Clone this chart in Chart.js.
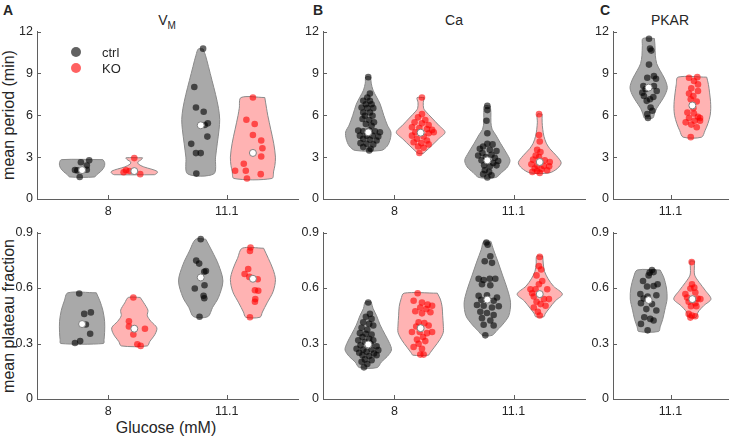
<!DOCTYPE html>
<html lang="en">
<head>
<meta charset="utf-8" />
<title>Violin plots - period and plateau fraction</title>
<script src="https://cdn.jsdelivr.net/npm/chart.js@4.4.1/dist/chart.umd.min.js"></script>
<style>
  body { margin: 0; background: #fff; }
  #fig { position: relative; width: 729px; height: 438px; overflow: hidden;
         font-family: 'Liberation Sans', Arial, sans-serif; color: #262626; }
  #fig canvas { position: absolute; }
  .txt { position: absolute; white-space: nowrap; }
  .letter { font-weight: bold; font-size: 14px; line-height: 14px; top: 3px; }
  .title { font-size: 14px; line-height: 14px; top: 13px; transform: translateX(-50%); }
  .title sub { font-size: 10px; vertical-align: -4px; line-height: 0; }
  .ytitle { font-size: 16px; line-height: 16px; transform: translate(-50%, -50%) rotate(-90deg); }
  .dot { position: absolute; width: 10px; height: 10px; border-radius: 50%; }
  .legtxt { font-size: 13px; line-height: 13px; }
</style>
</head>
<body>
<div id="fig">
  <div class="txt letter" style="left:3px">A</div>
  <div class="txt letter" style="left:313px">B</div>
  <div class="txt letter" style="left:600px">C</div>
  <div class="txt title" style="left:167px">V<sub>M</sub></div>
  <div class="txt title" style="left:454px">Ca</div>
  <div class="txt title" style="left:670px">PKAR</div>
  <div class="txt ytitle" style="left:9px;top:115px">mean period (min)</div>
  <div class="txt ytitle" style="left:9px;top:316px">mean plateau fraction</div>
  <div class="txt" style="left:166px;top:420px;font-size:16px;line-height:16px;transform:translateX(-50%)">Glucose (mM)</div>
  <canvas id="a1"></canvas>
  <canvas id="b1"></canvas>
  <canvas id="c1"></canvas>
  <canvas id="a2"></canvas>
  <canvas id="b2"></canvas>
  <canvas id="c2"></canvas>
  <div class="dot" style="left:71px;top:47px;background:rgba(0,0,0,0.62)"></div>
  <div class="dot" style="left:71px;top:63px;background:rgba(255,0,0,0.62)"></div>
  <div class="txt legtxt" style="left:102px;top:46px">ctrl</div>
  <div class="txt legtxt" style="left:102px;top:62px">KO</div>
</div>

<script>
// categories and ticks
const glucose = ['8', '11.1'];
const glucoseC = ['11.1'];
const periodTicks = [0, 3, 6, 9, 12];
const plateauTicks = [0, 0.3, 0.6, 0.9];

// violin outlines: [value, half width in x units], top to bottom
// points: [x jitter, value]; medians per glucose level

// --- V_M, mean period ---
const vmPerCtrl8Shape = [[2.82,0.175],[2.62,0.19],[2.4,0.19],[2.2,0.18],[1.95,0.155],[1.75,0.125],[1.58,0.105]];
const vmPerKo8Shape = [[2.95,0.07],[2.82,0.06],[2.65,0.03],[2.5,0.035],[2.3,0.08],[2.15,0.14],[2.0,0.19],[1.88,0.195],[1.78,0.18],[1.74,0.17]];
const vmPerCtrl11Shape = [[10.75,0.02],[10.3,0.04],[9.5,0.065],[8.5,0.095],[7.5,0.125],[6.5,0.15],[5.7,0.16],[5.0,0.155],[4.0,0.14],[3.0,0.125],[1.8,0.11]];
const vmPerKo11Shape = [[7.27,0.10],[6.5,0.115],[6.0,0.125],[5.0,0.15],[4.0,0.175],[3.0,0.19],[2.4,0.185],[2.0,0.175],[1.47,0.16]];
const vmPerCtrl8 = [[0.06,2.77],[-0.01,2.63],[0.04,2.40],[-0.06,2.08],[-0.04,2.05],[0.04,2.10],[-0.02,1.58]];
const vmPerKo8 = [[0,2.93],[-0.07,2.06],[-0.04,2.01],[-0.09,1.92],[0.05,1.78]];
const vmPerCtrl11 = [[0.02,10.77],[-0.054,8.02],[-0.04,6.55],[0.025,6.25],[0.06,5.42],[0.033,5.30],[0.056,4.47],[-0.08,3.95],[-0.04,3.29],[0,3.29],[-0.037,1.82]];
const vmPerKo11 = [[0,7.27],[-0.055,5.68],[0.015,5.37],[0,4.59],[0.07,4.19],[0.08,3.64],[0.07,3.05],[-0.077,2.53],[-0.15,2.02],[-0.06,2.02],[0.066,1.78],[-0.05,1.47]];
const vmPerMedCtrl = [2.07, 5.28];
const vmPerMedKo = [2.0, 3.3];

// --- V_M, plateau fraction ---
const vmPlaCtrl8Shape = [[0.574,0.12],[0.53,0.15],[0.48,0.175],[0.42,0.19],[0.36,0.19],[0.32,0.185],[0.30,0.18]];
const vmPlaKo8Shape = [[0.549,0.05],[0.52,0.08],[0.48,0.115],[0.45,0.11],[0.42,0.14],[0.385,0.19],[0.35,0.175],[0.31,0.13],[0.287,0.11]];
const vmPlaCtrl11Shape = [[0.864,0.042],[0.80,0.095],[0.726,0.15],[0.638,0.187],[0.549,0.15],[0.495,0.10],[0.445,0.06]];
const vmPlaKo11Shape = [[0.815,0.09],[0.76,0.13],[0.70,0.17],[0.645,0.19],[0.58,0.17],[0.52,0.12],[0.47,0.08],[0.442,0.06]];
const vmPlaCtrl8 = [[-0.024,0.57],[0.018,0.46],[0.074,0.468],[0.032,0.403],[0.068,0.353],[-0.016,0.313],[-0.06,0.303]];
const vmPlaKo8 = [[-0.008,0.549],[-0.045,0.42],[-0.045,0.392],[0.09,0.38],[-0.008,0.349],[0.026,0.296],[0.054,0.287]];
const vmPlaCtrl11 = [[0,0.864],[-0.038,0.748],[-0.013,0.732],[0.044,0.692],[0.03,0.688],[0.032,0.615],[-0.05,0.597],[0.024,0.558],[0.03,0.545],[-0.01,0.445]];
const vmPlaKo11 = [[-0.02,0.819],[-0.025,0.80],[-0.04,0.703],[-0.07,0.676],[-0.03,0.66],[0.04,0.647],[0.017,0.588],[0.045,0.585],[0.02,0.54],[0.017,0.526],[-0.025,0.442]];
const vmPlaMedCtrl = [0.405, 0.657];
const vmPlaMedKo = [0.38, 0.65];

// --- Ca, mean period ---
const caPerCtrl8Shape = [[8.75,0.02],[8.3,0.025],[7.8,0.04],[7.3,0.07],[6.8,0.10],[6.0,0.13],[5.3,0.16],[4.8,0.19],[4.3,0.185],[3.8,0.16],[3.48,0.11]];
const caPerKo8Shape = [[7.26,0.03],[6.9,0.022],[6.5,0.025],[6.3,0.04],[5.8,0.095],[5.3,0.15],[4.78,0.205],[4.3,0.15],[3.8,0.09],[3.4,0.04],[3.26,0.02]];
const caPerCtrl11Shape = [[6.67,0.025],[6.2,0.03],[5.5,0.03],[5.0,0.04],[4.6,0.07],[4.0,0.11],[3.3,0.16],[2.77,0.19],[2.3,0.17],[1.9,0.12],[1.54,0.07]];
const caPerKo11Shape = [[6.08,0.02],[5.5,0.02],[5.0,0.025],[4.5,0.035],[4.0,0.055],[3.6,0.085],[3.1,0.14],[2.6,0.18],[2.2,0.15],[1.87,0.08]];
const caPerCtrl8 = [[0,8.73],[0.014,7.55],[-0.008,7.27],[-0.042,7.03],[0.014,7.03],[-0.02,6.79],[0.028,6.79],[-0.056,6.56],[-0.008,6.51],[0.042,6.51],[-0.042,6.20],[0.014,6.20],[-0.028,5.96],[0.036,5.96],[-0.048,5.73],[0.008,5.66],[0.048,5.49],[-0.02,5.37],[0.028,5.25],[-0.084,4.90],[-0.042,4.85],[0.008,4.90],[0.056,4.85],[0.098,4.78],[-0.07,4.54],[-0.014,4.54],[0.036,4.54],[0.084,4.47],[-0.042,4.31],[0.014,4.24],[0.07,4.19],[-0.065,4.00],[-0.014,3.95],[0.042,3.91],[-0.042,3.72],[0.02,3.60],[0.008,3.48]];
const caPerKo8 = [[0.011,7.27],[0.011,6.08],[-0.022,5.85],[0.039,5.66],[-0.051,5.49],[0.011,5.42],[0.067,5.30],[-0.073,5.14],[-0.011,5.09],[0.053,5.02],[0.096,4.95],[-0.045,4.78],[0.067,4.71],[0.11,4.78],[-0.073,4.54],[0.025,4.47],[-0.031,4.31],[0.053,4.19],[-0.059,4.07],[0.006,4.00],[0.067,3.91],[-0.022,3.76],[0.025,3.67],[-0.011,3.3]];
const caPerCtrl11 = [[0,6.67],[0,6.37],[-0.007,5.61],[0,4.71],[0,3.95],[-0.035,3.76],[0.044,3.91],[-0.063,3.60],[0.021,3.53],[0.077,3.43],[-0.041,3.29],[0.035,3.17],[-0.077,3.12],[-0.013,3.01],[0.063,2.96],[-0.049,2.77],[0.091,2.72],[0.049,2.58],[-0.027,2.41],[0.021,2.34],[0.077,2.41],[-0.021,2.06],[0.015,1.94],[-0.035,1.78],[0.035,1.70],[0,1.54]];
const caPerKo11 = [[-0.006,6.08],[-0.006,4.59],[0,4.12],[-0.022,3.53],[0.006,3.36],[-0.034,3.12],[-0.006,3.01],[-0.056,2.82],[0.042,2.77],[0.084,2.65],[-0.07,2.49],[-0.022,2.41],[0.034,2.37],[0.079,2.34],[-0.042,2.18],[0.014,2.13],[0.062,2.06],[-0.022,2.01],[0,1.87],[-0.062,1.94]];
const caPerMedCtrl = [4.78, 2.77];
const caPerMedKo = [4.75, 2.65];

// --- Ca, plateau fraction ---
const caPlaCtrl8Shape = [[0.525,0.025],[0.49,0.04],[0.45,0.07],[0.40,0.10],[0.35,0.14],[0.30,0.18],[0.265,0.195],[0.23,0.16],[0.20,0.11],[0.17,0.075]];
const caPlaKo8Shape = [[0.572,0.14],[0.54,0.165],[0.50,0.18],[0.45,0.185],[0.40,0.19],[0.36,0.19],[0.32,0.16],[0.28,0.115],[0.25,0.08],[0.237,0.065]];
const caPlaCtrl11Shape = [[0.852,0.03],[0.81,0.05],[0.74,0.09],[0.665,0.13],[0.59,0.17],[0.52,0.195],[0.45,0.18],[0.40,0.125],[0.37,0.08],[0.344,0.04]];
const caPlaKo11Shape = [[0.772,0.025],[0.73,0.03],[0.69,0.04],[0.65,0.07],[0.61,0.115],[0.567,0.19],[0.53,0.13],[0.49,0.08],[0.46,0.045],[0.445,0.035]];
const caPlaCtrl8 = [[0,0.522],[0.014,0.46],[-0.02,0.445],[0.028,0.433],[-0.042,0.415],[0.008,0.406],[0.042,0.397],[-0.056,0.385],[-0.008,0.374],[-0.07,0.356],[-0.02,0.353],[0.028,0.349],[-0.048,0.335],[0.008,0.326],[-0.084,0.317],[0.042,0.317],[-0.028,0.308],[0.02,0.299],[-0.065,0.29],[0.07,0.285],[-0.098,0.272],[-0.042,0.267],[0.028,0.267],[0.084,0.264],[-0.014,0.255],[-0.076,0.25],[0.048,0.246],[-0.048,0.237],[0.008,0.232],[0.07,0.237],[-0.028,0.214],[0.028,0.21],[-0.056,0.201],[-0.008,0.189],[-0.036,0.171]];
const caPlaKo8 = [[-0.025,0.572],[-0.059,0.531],[0.011,0.522],[0.059,0.51],[0.096,0.504],[-0.003,0.495],[0.048,0.486],[-0.045,0.474],[0.082,0.469],[0.011,0.463],[-0.017,0.415],[0.031,0.41],[-0.037,0.392],[0.067,0.397],[-0.073,0.362],[-0.008,0.362],[0.053,0.356],[0.096,0.362],[0.02,0.335],[-0.031,0.321],[0.039,0.313],[-0.017,0.299],[-0.059,0.281],[0.011,0.272],[-0.003,0.24],[0.025,0.24]];
const caPlaCtrl11 = [[-0.008,0.846],[0.003,0.834],[0.025,0.772],[-0.022,0.745],[0.039,0.736],[-0.073,0.65],[-0.031,0.643],[0.02,0.65],[0.067,0.65],[-0.045,0.62],[0.025,0.615],[-0.073,0.558],[-0.003,0.561],[0.081,0.549],[-0.051,0.536],[0.053,0.531],[-0.087,0.508],[-0.031,0.504],[0.039,0.495],[0.096,0.501],[-0.059,0.472],[-0.003,0.465],[0.053,0.454],[-0.045,0.437],[0.025,0.424],[-0.031,0.401],[0.053,0.397],[-0.017,0.344]];
const caPlaKo11 = [[0,0.768],[-0.007,0.718],[0.012,0.70],[-0.027,0.668],[0.021,0.638],[-0.007,0.62],[-0.078,0.593],[-0.035,0.593],[0.063,0.593],[-0.064,0.572],[-0.05,0.554],[0.035,0.54],[0.077,0.54],[-0.027,0.526],[0.007,0.513],[0.049,0.504],[-0.05,0.495],[-0.016,0.472],[0,0.451]];
const caPlaMedCtrl = [0.295, 0.537];
const caPlaMedKo = [0.383, 0.567];

// --- PKAR (11.1 mM only) ---
const pkPerCtrlShape = [[11.5,0.05],[11.0,0.055],[10.3,0.058],[9.7,0.07],[9.2,0.1],[8.6,0.14],[8.0,0.162],[7.5,0.145],[7.0,0.11],[6.5,0.07],[6.1,0.05],[5.8,0.036]];
const pkPerKoShape = [[8.73,0.125],[8.2,0.14],[7.6,0.15],[7.0,0.158],[6.5,0.16],[6.0,0.155],[5.4,0.135],[4.9,0.11],[4.43,0.08]];
const pkPerCtrl = [[0.003,11.48],[0.012,10.77],[0.023,10.63],[0.003,9.63],[-0.012,8.69],[0.046,8.80],[0.064,8.62],[-0.046,8.09],[-0.026,7.86],[-0.055,7.62],[0.046,8.09],[0.07,7.74],[-0.041,7.38],[0.041,7.31],[-0.017,7.03],[0.012,7.15],[0.017,6.56],[0.032,6.32],[-0.012,6.08],[-0.006,5.80]];
const pkPerKo = [[-0.029,8.69],[0.043,8.73],[0.014,8.45],[0.049,8.21],[-0.009,7.93],[0.049,7.74],[-0.029,7.55],[0.009,7.38],[-0.014,7.15],[0.038,6.98],[0.009,6.51],[-0.043,6.20],[0.014,6.13],[0.049,5.89],[0.067,5.80],[-0.029,5.80],[-0.058,5.49],[0.02,5.61],[0.067,5.61],[-0.009,5.33],[0.038,5.14],[-0.014,4.43]];
const pkPerMedCtrl = [7.98];
const pkPerMedKo = [6.7];

const pkPlaCtrlShape = [[0.697,0.10],[0.66,0.13],[0.60,0.155],[0.54,0.16],[0.48,0.14],[0.43,0.122],[0.39,0.1],[0.365,0.087]];
const pkPlaKoShape = [[0.745,0.02],[0.72,0.018],[0.67,0.02],[0.63,0.06],[0.585,0.115],[0.54,0.162],[0.505,0.10],[0.47,0.05],[0.442,0.033]];
const pkPlaCtrl = [[0.029,0.697],[0.009,0.683],[0.043,0.686],[0,0.668],[-0.049,0.638],[0.078,0.62],[-0.014,0.608],[0.043,0.611],[-0.072,0.567],[-0.043,0.543],[-0.009,0.554],[0.067,0.561],[-0.067,0.518],[0.029,0.513],[-0.02,0.486],[0.067,0.478],[-0.038,0.442],[0.014,0.433],[0.043,0.424],[-0.067,0.406],[-0.009,0.371]];
const pkPlaKo = [[-0.006,0.74],[-0.003,0.62],[0.017,0.602],[-0.017,0.597],[0.026,0.576],[-0.061,0.567],[-0.046,0.549],[0.046,0.543],[0.07,0.54],[-0.032,0.526],[0.026,0.518],[-0.012,0.501],[0.035,0.501],[-0.032,0.46],[-0.003,0.451],[0.026,0.447],[-0.017,0.44]];
const pkPlaMedCtrl = [0.535];
const pkPlaMedKo = [0.54];

// ---------- drawing ----------
const AXIS = '#5f5f5f';
const TEXT = '#262626';
const FONT = "'Liberation Sans', Arial, sans-serif";
const style = {
  ctrl: { fill: '#a9a9a9', dot: 'rgba(0,0,0,0.6)' },
  ko:   { fill: '#ffb3b3', dot: 'rgba(255,0,0,0.6)' }
};

function outline(c, shape) {
  const right = shape.map(([v, w]) => ({ x: c + w, y: v }));
  const left = shape.slice().reverse().map(([v, w]) => ({ x: c - w, y: v }));
  return right.concat(left, [right[0]]);
}

const inwardTicks = {
  id: 'inwardTicks',
  afterDraw(chart) {
    const { ctx, chartArea: a, scales: { x, y } } = chart;
    ctx.save();
    ctx.strokeStyle = AXIS;
    ctx.lineWidth = 1;
    ctx.beginPath();
    y.ticks.forEach(t => {
      const py = Math.round(y.getPixelForValue(t.value)) + 0.5;
      ctx.moveTo(a.left, py); ctx.lineTo(a.left + 4, py);
    });
    x.ticks.forEach(t => {
      const px = Math.round(x.getPixelForValue(t.value)) + 0.5;
      ctx.moveTo(px, a.bottom); ctx.lineTo(px, a.bottom - 4);
    });
    ctx.stroke();
    ctx.restore();
  }
};

// area = [left, top, right, bottom] of the plot box in page pixels
function panel(id, area, xr, xPos, xLabels, yTicks, off, violins) {
  const [L, T, R, B] = area;
  const cv = document.getElementById(id);
  cv.width = R - L + 39;
  cv.height = B - T + 31;
  cv.style.left = (L - 37) + 'px';
  cv.style.top = (T - 10) + 'px';

  const datasets = [];
  violins.forEach(([kind, pos, shape, pts, med]) => {
    const c = pos + (kind === 'ctrl' ? -off : off);
    const s = style[kind];
    datasets.push({
      type: 'line', data: outline(c, shape), fill: 'shape',
      backgroundColor: s.fill, borderColor: '#8a8a8a', borderWidth: 1,
      pointRadius: 0, pointHitRadius: 0, tension: 0.3, order: 3
    });
    datasets.push({
      type: 'scatter', data: pts.map(([dx, v]) => ({ x: c + dx, y: v })),
      pointRadius: 3.3, backgroundColor: s.dot, borderWidth: 0, order: 2
    });
    datasets.push({
      type: 'scatter', data: [{ x: c, y: med }],
      pointRadius: 3.5, backgroundColor: '#ffffff', borderColor: '#808080', borderWidth: 1, order: 1
    });
  });

  new Chart(cv, {
    type: 'scatter',
    data: { datasets },
    plugins: [inwardTicks],
    options: {
      responsive: false,
      animation: false,
      events: [],
      layout: { padding: { top: 10, right: 2, left: 0, bottom: 0 }, autoPadding: false },
      plugins: { legend: { display: false }, tooltip: { enabled: false } },
      scales: {
        x: {
          type: 'linear', min: xr[0], max: xr[1], bounds: 'data',
          grid: { display: false, drawTicks: false },
          border: { color: AXIS, width: 1 },
          afterBuildTicks: s => { s.ticks = xPos.map(v => ({ value: v })); },
          afterFit: s => { s.height = 21; },
          ticks: {
            callback: (v, i) => xLabels[i], autoSkip: false, maxRotation: 0,
            padding: 5, color: TEXT, font: { family: FONT, size: 12.5 }
          }
        },
        y: {
          min: yTicks[0], max: yTicks[yTicks.length - 1], bounds: 'data',
          grid: { display: false, drawTicks: false },
          border: { color: AXIS, width: 1 },
          afterBuildTicks: s => { s.ticks = yTicks.map(v => ({ value: v })); },
          afterFit: s => { s.width = 37; },
          ticks: {
            callback: v => String(v),
            padding: 4, color: TEXT, font: { family: FONT, size: 12.5 }
          }
        }
      }
    }
  });
}

panel('a1', [37, 30, 298, 199], [0.4, 2.6], [1, 2], glucose, periodTicks, 0.22, [
  ['ctrl', 1, vmPerCtrl8Shape, vmPerCtrl8, vmPerMedCtrl[0]],
  ['ko', 1, vmPerKo8Shape, vmPerKo8, vmPerMedKo[0]],
  ['ctrl', 2, vmPerCtrl11Shape, vmPerCtrl11, vmPerMedCtrl[1]],
  ['ko', 2, vmPerKo11Shape, vmPerKo11, vmPerMedKo[1]]
]);
panel('a2', [37, 231, 298, 399], [0.4, 2.6], [1, 2], glucose, plateauTicks, 0.22, [
  ['ctrl', 1, vmPlaCtrl8Shape, vmPlaCtrl8, vmPlaMedCtrl[0]],
  ['ko', 1, vmPlaKo8Shape, vmPlaKo8, vmPlaMedKo[0]],
  ['ctrl', 2, vmPlaCtrl11Shape, vmPlaCtrl11, vmPlaMedCtrl[1]],
  ['ko', 2, vmPlaKo11Shape, vmPlaKo11, vmPlaMedKo[1]]
]);
panel('b1', [323, 30, 585, 199], [0.4, 2.6], [1, 2], glucose, periodTicks, 0.22, [
  ['ctrl', 1, caPerCtrl8Shape, caPerCtrl8, caPerMedCtrl[0]],
  ['ko', 1, caPerKo8Shape, caPerKo8, caPerMedKo[0]],
  ['ctrl', 2, caPerCtrl11Shape, caPerCtrl11, caPerMedCtrl[1]],
  ['ko', 2, caPerKo11Shape, caPerKo11, caPerMedKo[1]]
]);
panel('b2', [323, 231, 585, 399], [0.4, 2.6], [1, 2], glucose, plateauTicks, 0.22, [
  ['ctrl', 1, caPlaCtrl8Shape, caPlaCtrl8, caPlaMedCtrl[0]],
  ['ko', 1, caPlaKo8Shape, caPlaKo8, caPlaMedKo[0]],
  ['ctrl', 2, caPlaCtrl11Shape, caPlaCtrl11, caPlaMedCtrl[1]],
  ['ko', 2, caPlaKo11Shape, caPlaKo11, caPlaMedKo[1]]
]);
panel('c1', [613, 30, 728, 199], [0.5, 1.5], [1], glucoseC, periodTicks, 0.19, [
  ['ctrl', 1, pkPerCtrlShape, pkPerCtrl, pkPerMedCtrl[0]],
  ['ko', 1, pkPerKoShape, pkPerKo, pkPerMedKo[0]]
]);
panel('c2', [613, 231, 728, 399], [0.5, 1.5], [1], glucoseC, plateauTicks, 0.19, [
  ['ctrl', 1, pkPlaCtrlShape, pkPlaCtrl, pkPlaMedCtrl[0]],
  ['ko', 1, pkPlaKoShape, pkPlaKo, pkPlaMedKo[0]]
]);
</script>
</body>
</html>
